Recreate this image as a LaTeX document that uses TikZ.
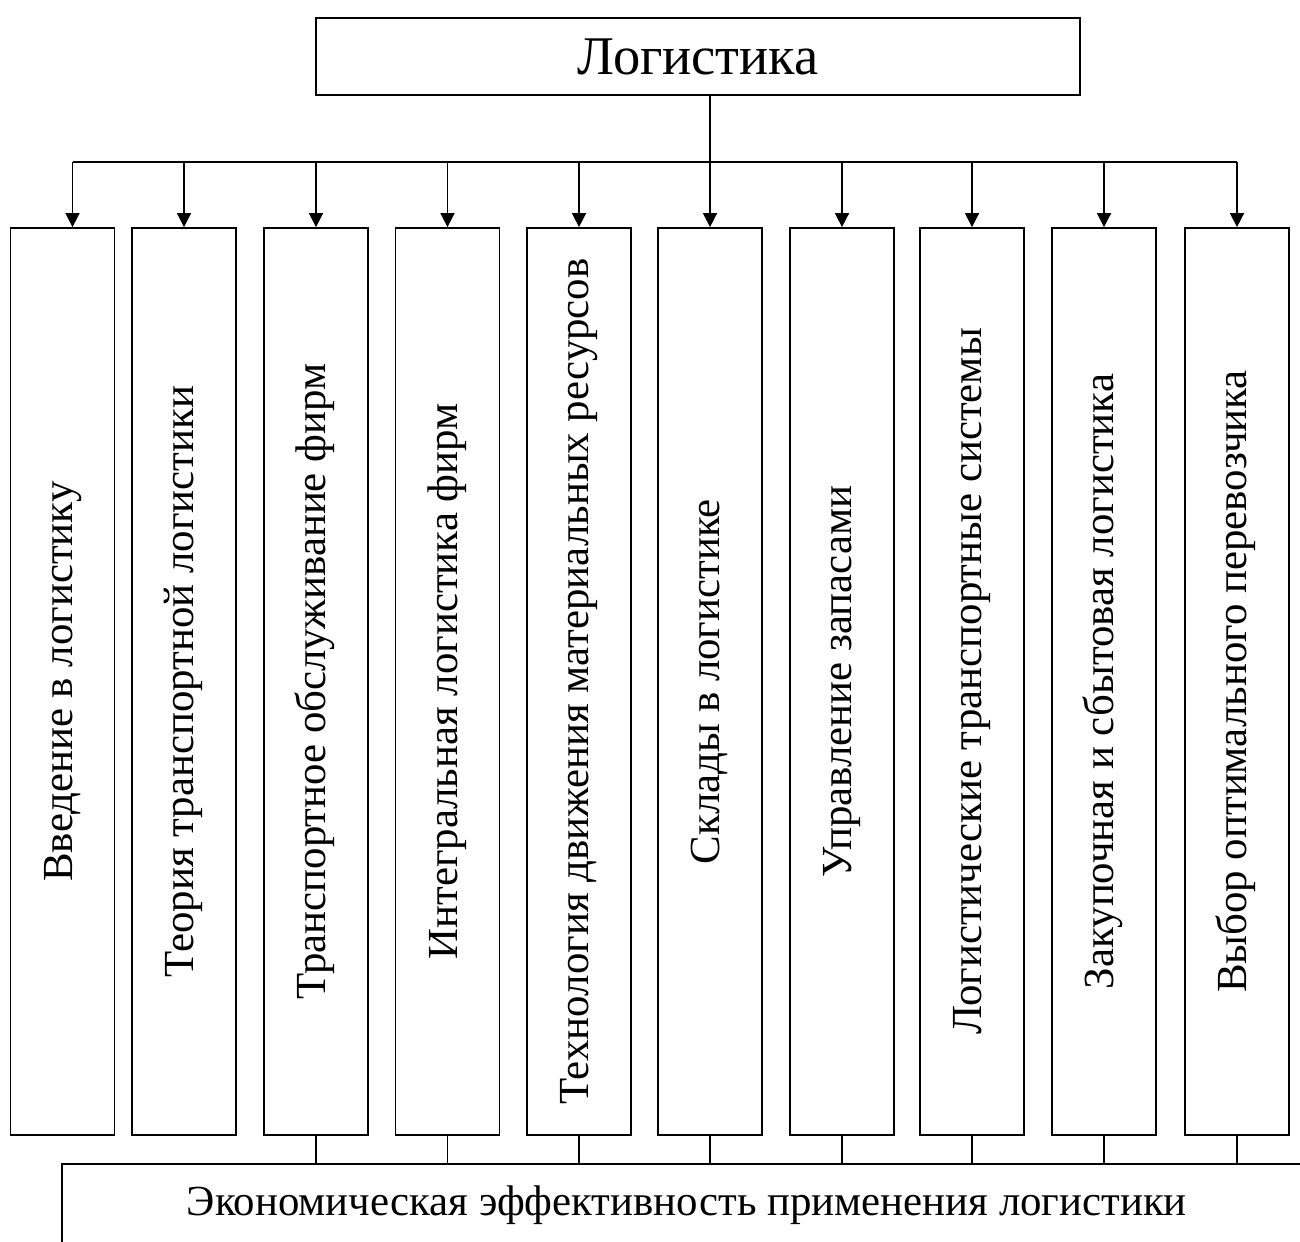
\documentclass[tikz,border=0pt]{standalone}
\usepackage{fontspec}
\setmainfont{Liberation Serif}
\usetikzlibrary{arrows.meta}

\tikzset{
	head/.style={draw, line width=1.1pt, minimum width=15.28cm, minimum height=1.54cm, inner sep=0pt, font=\fontsize{31}{37}\selectfont},
	topic/.style={draw, line width=1.1pt, rotate=90, minimum width=18.14cm, minimum height=2.08cm, inner sep=0pt, text height=16.3pt, text depth=5.4pt, font=\fontsize{24.4}{29}\selectfont},
	result/.style={draw, line width=1.1pt, anchor=north west, minimum width=25cm, minimum height=1.68cm, inner sep=0pt, text height=16.3pt, text depth=5.4pt, font=\fontsize{24.4}{29}\selectfont},
	link/.style={line width=0.9pt},
	feed/.style={link, -{Triangle[length=8pt, width=8pt]}}
}

\begin{document}
\begin{tikzpicture}[x=0.02cm, y=-0.02cm]
	\newcommand\boxmid{681.5}
	\newcommand\busy{162}
	
	\clip (0,0) rectangle (1300,1241);
	
	\node[head] (logist) at (698,56.5) {Логистика};
	
	\foreach \i/\cx/\txt in {1/62.5/Введение в логистику,
		2/184/Теория транспортной логистики,
		3/316/Транспортное обслуживание фирм,
		4/447.5/Интегральная логистика фирм,
		5/579/Технология движения материальных ресурсов,
		6/710/Склады в логистике,
		7/842/Управление запасами,
		8/972/Логистические транспортные системы,
		9/1104/Закупочная и сбытовая логистика,
		10/1237/Выбор оптимального перевозчика}
		\node[topic] (b\i) at (\cx,\boxmid) {\txt};
	
	\node[result] (econ) at (61,1163) {Экономическая эффективность применения логистики};
	
	% shared bus under the title
	\coordinate (busL) at (72.5,\busy);
	\draw[link] (busL) -- (b10 |- busL);
	\draw[feed] (logist.south -| b6) -- (b6.east);
	\draw[feed] (busL) -- (busL |- b1.east);
	\foreach \i in {2,3,4,5,7,8,9,10}
		\draw[feed] (b\i |- busL) -- (b\i.east);
	
	\foreach \i in {3,...,10}
		\draw[link] (b\i.west) -- (b\i.west |- econ.north);
	
\end{tikzpicture}
\end{document}
